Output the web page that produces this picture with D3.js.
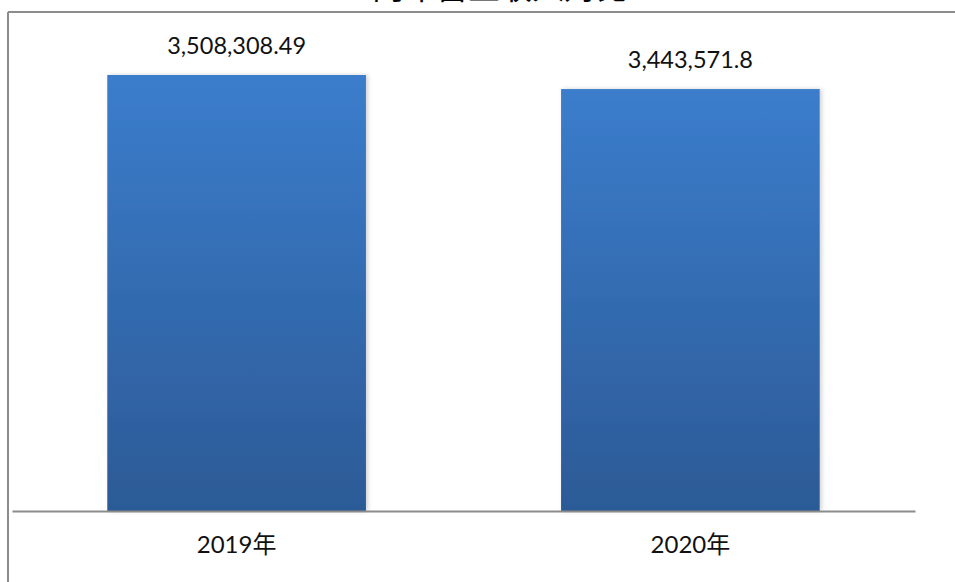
<!DOCTYPE html>
<html>
<head>
<meta charset="utf-8">
<script src="https://cdn.jsdelivr.net/npm/d3@7"></script>
<style>
  body { margin: 0; background: #fff; }
  svg { display: block; }
</style>
</head>
<body>
<div id="chart"></div>
<script>
// data
var categories = ["2019年", "2020年"];
var values = [3508308.49, 3443571.8];
var valueLabels = ["3,508,308.49", "3,443,571.8"];
var titleText = "两年营业收入对比";

var width = 955, height = 582;
var font = "Lato, 'Noto Sans CJK SC', sans-serif";

var svg = d3.select("#chart").append("svg")
    .attr("width", width)
    .attr("height", height);

var defs = svg.append("defs");
var grad = defs.append("linearGradient")
    .attr("id", "barGrad")
    .attr("x1", 0).attr("y1", 0).attr("x2", 0).attr("y2", 1);
grad.append("stop").attr("offset", "0%").attr("stop-color", "#3b7dcc");
grad.append("stop").attr("offset", "100%").attr("stop-color", "#2c5a96");

var shadow = defs.append("filter").attr("id", "shadow")
    .attr("x", "-5%").attr("y", "-5%").attr("width", "115%").attr("height", "110%");
shadow.append("feDropShadow")
    .attr("dx", 2).attr("dy", 0).attr("stdDeviation", 2)
    .attr("flood-color", "#000").attr("flood-opacity", 0.18);

// title, cut off by the top edge as in the original
svg.append("text")
    .attr("x", 500)
    .attr("y", -1)
    .attr("text-anchor", "middle")
    .style("font-family", font)
    .style("font-size", "32px")
    .text(titleText);

// chart frame (top + left edges visible)
svg.append("line")
    .attr("x1", 8).attr("y1", 12).attr("x2", width).attr("y2", 12)
    .attr("stroke", "#8c8c8c").attr("stroke-width", 2);
svg.append("line")
    .attr("x1", 8).attr("y1", 12).attr("x2", 8).attr("y2", height)
    .attr("stroke", "#8c8c8c").attr("stroke-width", 2);

var x = d3.scaleBand()
    .domain(categories)
    .range([12, 915])
    .paddingInner(0.43)
    .paddingOuter(0.21);

// value axis does not start at zero in the original
var y = d3.scaleLinear()
    .domain([1500000, 3508308.49])
    .range([511, 75]);

svg.selectAll(".bar")
    .data(values)
    .enter().append("rect")
    .attr("class", "bar")
    .attr("x", function(d, i) { return x(categories[i]); })
    .attr("y", function(d) { return y(d); })
    .attr("width", x.bandwidth())
    .attr("height", function(d) { return 511 - y(d); })
    .attr("fill", "url(#barGrad)")
    .attr("filter", "url(#shadow)");

svg.selectAll(".vlabel")
    .data(values)
    .enter().append("text")
    .attr("class", "vlabel")
    .attr("x", function(d, i) { return x(categories[i]) + x.bandwidth() / 2; })
    .attr("y", function(d) { return y(d) - 21; })
    .attr("text-anchor", "middle")
    .style("font-family", font)
    .style("font-size", "23.5px")
    .style("fill", "#111")
    .text(function(d, i) { return valueLabels[i]; });

// category axis
var xAxis = d3.axisBottom(x).tickSize(0).tickPadding(25);
var gx = svg.append("g")
    .attr("transform", "translate(0,511)")
    .call(xAxis);
gx.select(".domain").attr("stroke", "#8c8c8c").attr("stroke-width", 2);
gx.selectAll("text")
    .style("font-family", font)
    .style("font-size", "24px")
    .style("fill", "#111");
</script>
</body>
</html>
